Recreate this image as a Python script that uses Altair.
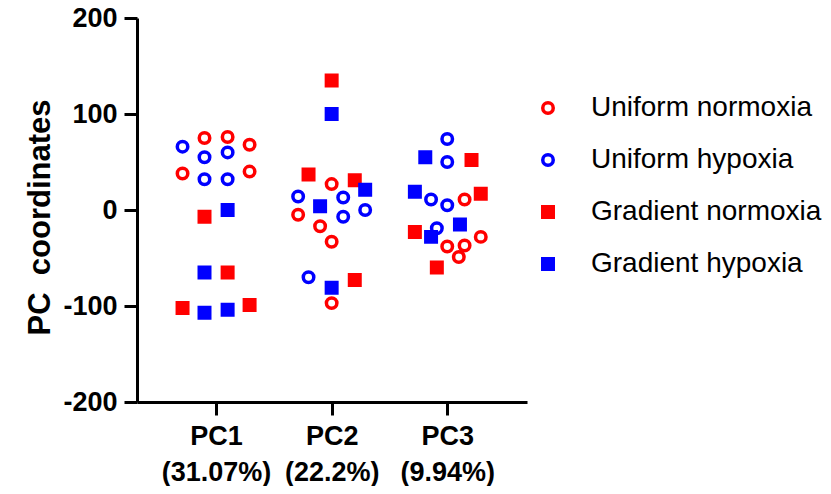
import altair as alt
import pandas as pd

groups = ["Uniform normoxia", "Uniform hypoxia", "Gradient normoxia", "Gradient hypoxia"]
pc_names = ["PC1", "PC2", "PC3"]
pc_variance = ["(31.07%)", "(22.2%)", "(9.94%)"]

# Uniform normoxia (open red circles)
un_pc = [1, 1, 1, 1, 1, 2, 2, 2, 2, 2, 3, 3, 3, 3, 3]
un_dx = [-0.1, 0.1, 0.29, -0.29, 0.29, 0, -0.29, -0.1, 0, 0, 0.15, 0.29, 0, 0.15, 0.1]
un_y = [75, 76, 68, 38, 40, 27, -5, -17, -33, -97, 11, -28, -38, -37, -49]

# Uniform hypoxia (open blue circles)
uh_pc = [1, 1, 1, 1, 1, 2, 2, 2, 2, 2, 3, 3, 3, 3, 3]
uh_dx = [-0.29, -0.1, 0.1, -0.1, 0.1, -0.29, 0.1, 0.29, 0.1, -0.2, 0, 0, -0.14, 0, -0.09]
uh_y = [66, 55, 60, 32, 32, 14, 13, 0, -7, -70, 74, 50, 11, 5, -19]

# Gradient normoxia (red squares)
gn_pc = [1, 1, 1, 1, 2, 2, 2, 2, 3, 3, 3, 3]
gn_dx = [-0.1, 0.1, -0.29, 0.29, 0, -0.2, 0.2, 0.2, 0.21, 0.29, -0.28, -0.09]
gn_y = [-7, -65, -102, -99, 135, 37, 31, -73, 52, 17, -23, -60]

# Gradient hypoxia (blue squares)
gh_pc = [1, 1, 1, 1, 2, 2, 2, 2, 3, 3, 3, 3]
gh_dx = [0.1, -0.1, -0.1, 0.1, 0, 0.29, -0.1, 0, -0.19, -0.28, 0.11, -0.14]
gh_y = [0, -65, -107, -104, 100, 21, 4, -81, 55, 19, -15, -28]

rows = []
for g, pcs, dxs, ys in [
    (groups[0], un_pc, un_dx, un_y),
    (groups[1], uh_pc, uh_dx, uh_y),
    (groups[2], gn_pc, gn_dx, gn_y),
    (groups[3], gh_pc, gh_dx, gh_y),
]:
    for p, d, v in zip(pcs, dxs, ys):
        rows.append({"group": g, "pos": p + d, "value": v})
df = pd.DataFrame(rows)

stroke_colors = ["#ff0000", "#0000ff", "#ff0000", "#0000ff"]
fill_colors = ["transparent", "transparent", "#ff0000", "#0000ff"]
shapes = ["circle", "circle", "square", "square"]
sizes = [110, 110, 81, 81]

label_expr = " : ".join(
    f"datum.value == {i + 1} ? ['{n}', '{v}']" for i, (n, v) in enumerate(zip(pc_names, pc_variance))
) + " : ''"

FONT = "Liberation Sans"
leg = alt.Legend(
    title=None, orient="none", legendX=397, legendY=76,
    labelFontSize=28, labelFont=FONT, labelColor="black", labelOffset=29,
    labelLimit=400, rowPadding=24, symbolStrokeWidth=3.5, padding=0,
)

chart = alt.Chart(df).mark_point(strokeWidth=3.5, opacity=1).encode(
    x=alt.X("pos:Q", scale=alt.Scale(domain=[0.316, 3.69], nice=False, zero=False),
            axis=alt.Axis(title=None, values=[1, 2, 3], labelExpr=label_expr,
                          labelLineHeight=36, labelPadding=8)),
    y=alt.Y("value:Q", scale=alt.Scale(domain=[-200, 200], nice=False),
            axis=alt.Axis(title="PC\u00a0 coordinates", values=[-200, -100, 0, 100, 200],
                          labelExpr="datum.value + ''", labelPadding=7,
                          titleFontSize=31, titlePadding=6, titleY=199)),
    color=alt.Color("group:N", scale=alt.Scale(domain=groups, range=stroke_colors), legend=leg),
    fill=alt.Fill("group:N", scale=alt.Scale(domain=groups, range=fill_colors), legend=leg),
    shape=alt.Shape("group:N", scale=alt.Scale(domain=groups, range=shapes), legend=leg),
    size=alt.Size("group:N", scale=alt.Scale(domain=groups, range=sizes), legend=leg),
).properties(
    width=390, height=384,
    autosize=alt.AutoSizeParams(type="none"),
    padding={"left": 129, "top": 10, "right": 296, "bottom": 84},
).configure_view(stroke=None).configure_axis(
    grid=False, domainColor="black", domainWidth=3, tickColor="black", tickWidth=3,
    tickSize=13, labelFont=FONT, labelFontSize=27, labelFontWeight="bold",
    labelColor="black", titleFont=FONT, titleFontWeight="bold", titleColor="black",
)

chart.save("out.html", embed_options={"renderer": "svg", "actions": False})
